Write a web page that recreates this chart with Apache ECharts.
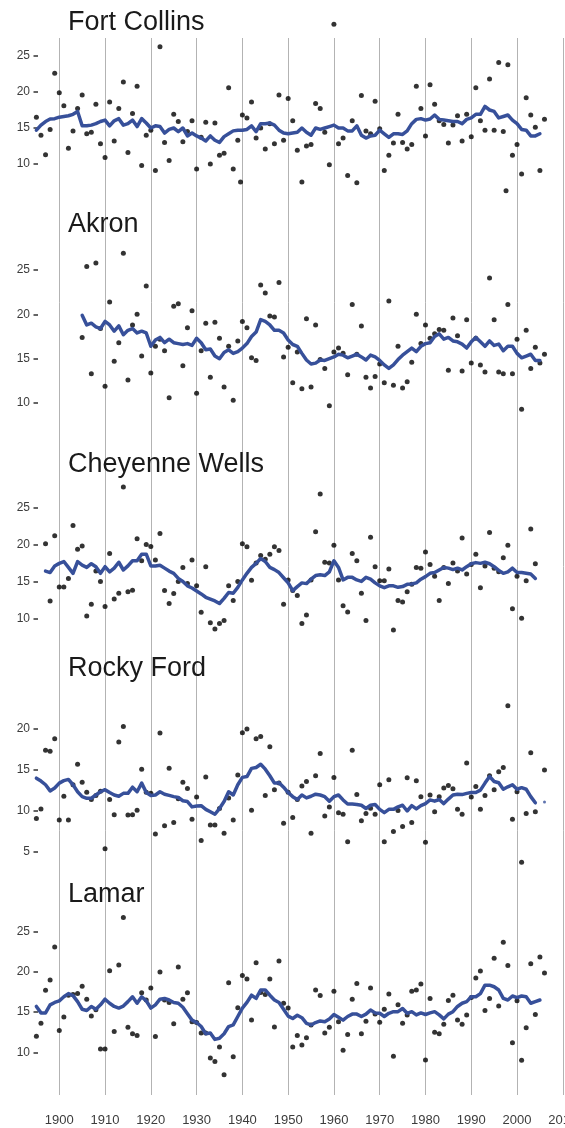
<!DOCTYPE html>
<html><head><meta charset="utf-8">
<script src="https://cdn.jsdelivr.net/npm/echarts@6/dist/echarts.min.js"></script>
<style>html,body{margin:0;padding:0;background:#fff}#c{width:565px;height:1128px}</style>
</head><body><div id="c"></div>
<script>
// ---------- DATA ----------
const stationNames = ['Fort Collins', 'Akron', 'Cheyenne Wells', 'Rocky Ford', 'Lamar'];
const yearTicks = [1900, 1910, 1920, 1930, 1940, 1950, 1960, 1970, 1980, 1990, 2000, 2010];

// Fort Collins
const fcPointStart = 1895;
const fcPoints = [
  16.5, 14.0, 11.3, 14.8, 22.6, 19.9, 18.1, 12.2, 14.6, 17.7,
  19.6, 14.2, 14.4, 18.3, 12.8, 10.9, 18.6, 13.2, 17.7, 21.4,
  11.6, 17.0, 20.8, 9.8, 14.0, 14.7, 9.1, 26.3, 13.0, 10.5,
  16.9, 15.9, 13.1, 14.5, 16.0, 9.3, 13.7, 15.8, 10.0, 15.7,
  11.2, 11.5, 20.6, 9.3, 13.3, 16.8, 16.4, 18.6, 13.6, 15.0,
  12.1, 15.6, 12.8, 19.6, 13.3, 19.1, 16.0, 11.9, 7.5, 12.5,
  12.7, 18.4, 17.7, 14.4, 9.9, 29.4, 12.8, 13.6, 8.4, 16.0,
  7.4, 19.5, 14.6, 14.2, 18.7, 14.9, 9.1, 11.2, 12.9, 16.9,
  13.0, 12.1, 12.7, 20.8, 17.7, 13.9, 21.0, 18.3, 16.0, 15.5,
  12.9, 15.4, 16.7, 13.2, 16.9, 13.8, 20.6, 16.0, 14.7, 21.8,
  14.7, 24.1, 14.5, 23.8, 11.2, 12.7, 8.6, 19.2, 16.8, 15.1,
  9.1, 16.2
];
const fcExtra = [[1939.6, 7.5], [1997.6, 6.3]];
const fcSmoothStart = 1895;
const fcSmooth = [
  14.7, 15.4, 15.9, 16.25, 16.3, 16.5, 16.6, 16.7, 16.9, 17.3,
  15.3, 15.3, 15.4, 15.6, 15.9, 16.1, 15.3, 16.0, 16.3, 15.4,
  15.6, 16.1, 15.2, 16.3, 15.7, 15.0, 15.3, 15.2, 14.3, 14.8,
  15.0, 14.5, 15.0, 13.9, 14.3, 13.9, 13.6, 13.2, 13.9, 13.3,
  13.0, 13.8, 14.2, 14.6, 14.7, 14.7, 14.8, 15.3, 14.5, 15.6,
  15.6, 15.7, 15.4, 14.7, 14.3, 14.2, 14.3, 14.4, 15.0, 14.4,
  14.0, 15.0, 14.8, 15.0, 15.2, 15.4, 15.0, 15.0, 14.6, 14.6,
  15.3, 14.0, 13.6, 13.9, 14.0, 14.7, 14.2, 13.7, 14.2, 14.2,
  14.1, 14.6, 15.6, 16.2, 16.3, 16.1, 16.25, 16.8, 16.2, 16.1,
  16.0, 15.9, 15.9, 15.6, 16.2, 16.4, 16.9, 16.9, 18.0, 17.5,
  17.3, 16.4, 16.6, 16.8, 16.1, 15.6, 14.8, 14.7, 13.9, 13.9,
  14.2
];
const fcTicks = [10, 15, 20, 25];

// Akron
const akPointStart = 1905;
const akPoints = [
  17.4, 25.4, 13.3, 25.8, 18.4, 11.9, 21.4, 14.7, 16.8, 26.9,
  12.6, 18.8, 20.0, 15.3, 23.2, 13.4, 16.4, 17.2, 15.9, 10.6,
  20.9, 21.2, 14.2, 18.5, 20.4, 11.1, 15.9, 19.0, 12.9, 19.1,
  17.3, 11.8, 16.4, 10.3, 17.0, 19.2, 18.5, 15.1, 14.8, 23.3,
  22.4, 19.8, 19.7, 23.6, 15.2, 16.3, 12.3, 15.75, 11.6, 19.5,
  11.8, 18.8, 14.9, 13.9, 9.7, 15.75, 16.2, 15.6, 13.2, 21.1,
  15.5, 18.7, 12.9, 11.7, 13.0, 14.4, 12.3, 21.5, 12.0, 16.4,
  11.7, 12.4, 14.6, 20.0, 16.7, 18.8, 17.3, 17.8, 18.3, 18.2,
  13.7, 19.6, 17.6, 13.6, 19.4, 14.5, 17.3, 14.3, 13.5, 24.1,
  19.4, 13.5, 13.3, 21.1, 13.3, 17.2, 9.3, 18.2, 13.9, 16.3,
  14.5, 15.5
];
const akExtra = [];
const akSmoothStart = 1905;
const akSmooth = [
  19.9, 18.8, 19.0, 18.6, 18.4, 19.2, 18.8, 18.1, 18.7, 17.7,
  18.2, 18.4, 17.9, 18.1, 17.9, 16.4, 17.1, 17.4, 16.8, 17.2,
  16.8, 16.7, 16.6, 16.7, 16.5, 17.3, 16.8, 16.0, 16.1, 15.3,
  15.0, 15.7, 16.0, 15.6, 15.8, 16.2, 16.7, 17.5, 18.0, 19.4,
  19.2, 18.8, 18.2, 18.2, 17.9, 17.1, 16.6, 16.4, 15.6, 14.85,
  14.4, 14.5, 14.85, 14.8, 15.0, 15.2, 15.5, 15.4, 15.1, 15.3,
  15.5, 15.2, 14.85, 15.4, 15.2, 14.8, 14.3, 13.9, 14.3, 14.9,
  15.4, 15.8, 16.2, 15.8, 16.4, 16.7, 16.8, 17.5, 17.8, 17.2,
  17.4, 17.0, 16.9, 16.65, 16.2, 16.9, 17.4, 16.9, 16.4, 17.0,
  16.5, 16.65, 15.9, 16.4, 16.4, 15.6, 15.1, 15.3, 15.5, 14.8,
  14.8
];
const akTicks = [10, 15, 20, 25];

// Cheyenne Wells
const cwPointStart = 1897;
const cwPoints = [
  20.1, 12.35, 21.2, 14.25, 14.25, 15.4, 22.6, 19.35, 19.8, 10.3,
  11.9, 16.4, 15.0, 11.6, 18.8, 12.6, 13.4, 27.8, 13.6, 13.8,
  20.8, 17.8, 20.0, 19.75, 17.9, 21.5, 13.75, 12.0, 13.35, 15.0,
  16.9, 14.7, 17.9, 14.4, 10.8, 17.0, 9.4, 8.55, 9.3, 9.7,
  14.4, 12.4, 15.0, 20.1, 19.7, 15.15, 17.5, 18.5, 18.0, 18.7,
  19.7, 19.2, 11.9, 15.2, 13.75, 13.1, 9.3, 10.45, 15.2, 21.75,
  26.85, 17.6, 17.5, 19.9, 15.2, 11.7, 10.85, 18.8, 17.8, 13.4,
  9.7, 21.0, 17.0, 15.1, 15.1, 16.7, 8.4, 12.4, 12.2, 13.6,
  14.6, 16.9, 16.8, 19.0, 17.3, 15.7, 12.4, 16.9, 14.7, 17.5,
  16.4, 20.9, 16.0, 17.3, 18.7, 14.15, 17.1, 21.65, 16.8, 16.3,
  18.2, 19.9, 11.3, 15.7, 10.0, 15.1, 22.1, 17.4
];
const cwExtra = [];
const cwSmoothStart = 1897;
const cwSmooth = [
  16.4, 16.2, 17.1, 17.45, 17.7, 16.9, 16.1, 17.7, 17.2, 16.9,
  17.4, 17.0, 16.1, 17.0, 16.3, 16.8, 17.6, 16.55, 17.1, 17.8,
  17.8, 18.7, 18.7, 17.1, 17.1, 17.2, 16.8, 16.4, 16.1, 15.4,
  15.0, 14.4, 14.1, 13.7, 13.3, 12.85, 12.6, 12.35, 12.0, 12.7,
  13.5, 13.4, 14.2, 15.2, 16.1, 16.9, 17.45, 18.1, 17.7, 16.9,
  16.6, 16.2, 15.5, 14.8, 13.75, 14.3, 14.8, 14.7, 15.3, 15.8,
  15.9, 15.8, 16.3, 17.8, 16.9, 15.2, 15.55, 15.55, 15.2, 15.0,
  15.55, 15.3, 14.8, 14.4, 14.15, 14.4, 14.4, 14.2, 14.3, 14.6,
  14.65, 14.8, 15.3, 15.65, 16.1, 16.2, 16.55, 16.9, 16.8, 16.6,
  16.8, 16.55, 17.0, 17.4, 17.55, 17.45, 17.6, 17.4, 17.0, 16.5,
  16.1, 16.3, 16.8, 16.2, 16.2, 16.1, 16.0, 15.4
];
const cwTicks = [10, 15, 20, 25];

// Rocky Ford
const rfPointStart = 1895;
const rfPoints = [
  9.1, 10.25, 17.4, 17.3, 18.8, 8.9, 11.8, 8.9, 13.2, 15.7,
  13.5, 12.3, 11.4, 11.9, 12.4, 5.4, 11.4, 9.55, 18.4, 20.3,
  9.5, 9.55, 10.1, 15.1, 12.3, 12.15, 7.2, 19.5, 8.2, 15.2,
  8.6, 11.5, 13.5, 12.75, 9.0, 11.7, 6.4, 14.15, 8.3, 8.3,
  10.3, 7.3, 11.6, 8.9, 14.4, 19.55, 20.0, 10.1, 18.8, 19.1,
  11.9, 17.85, 12.6, 13.4, 8.5, 12.3, 9.2, 11.4, 13.05, 13.6,
  7.3, 14.3, 17.0, 9.4, 10.5, 14.1, 9.8, 9.6, 6.25, 17.4,
  12.0, 8.8, 9.7, 10.35, 9.6, 13.2, 6.25, 13.8, 7.5, 10.05,
  8.1, 14.05, 8.6, 13.7, 11.75, 6.2, 11.95, 9.9, 11.75, 12.8,
  13.1, 12.7, 10.2, 9.6, 15.85, 11.7, 13.0, 10.2, 11.9, 14.3,
  12.6, 14.8, 15.3, 22.85, 9.0, 12.35, 3.75, 9.7, 17.1, 9.9,
  null, 15.0
];
const rfExtra = [];
const rfSmoothStart = 1895;
const rfSmooth = [
  14.0, 13.65, 13.2, 12.45, 12.8, 13.4, 13.7, 13.85, 13.2, 12.35,
  11.75, 11.55, 11.55, 11.95, 12.35, 12.6, 12.25, 11.95, 11.8, 12.15,
  12.15, 12.9, 12.35, 13.4, 12.25, 11.9, 11.95, 12.35, 12.05, 11.9,
  11.75, 11.65, 11.25, 11.15, 10.5, 10.6, 10.65, 10.2, 9.9, 9.6,
  10.3, 11.15, 12.35, 11.95, 13.2, 14.1, 14.2, 15.2, 15.3, 15.7,
  15.1, 14.3, 13.4, 13.45, 12.9, 12.25, 11.75, 11.4, 11.95, 11.6,
  11.8, 12.05, 11.95, 11.75, 11.2, 11.75, 11.95, 11.35, 10.85, 10.85,
  10.8, 10.7, 10.3, 10.7, 10.8, 10.2, 9.8, 10.2, 10.2, 10.5,
  10.7, 10.0, 10.65, 10.25, 10.65, 10.9, 11.35, 11.2, 11.4, 10.9,
  11.45, 11.95, 12.05, 12.0, 12.15, 12.25, 12.25, 12.55, 13.4, 14.2,
  13.6, 13.45, 12.65, 12.95, 13.2, 12.65, 12.85, 12.65, 11.75, 11.0,
  null, 11.1
];
const rfTicks = [5, 10, 15, 20];

// Lamar
const lmPointStart = 1895;
const lmPoints = [
  12.0, 13.6, 17.7, 19.0, 23.1, 12.7, 14.4, 17.1, 17.2, 17.3,
  18.2, 16.6, 14.5, 15.3, 10.4, 10.4, 20.15, 12.6, 20.85, 26.75,
  13.1, 12.3, 12.1, 17.4, 16.5, 18.0, 11.95, 20.0, 16.5, 16.2,
  13.55, 20.6, 16.6, 17.4, 13.8, 13.7, 12.4, 12.4, 9.3, 8.85,
  10.65, 7.2, 18.65, 9.45, 15.55, 19.55, 19.1, 14.0, 21.15, 17.45,
  17.2, 19.1, 13.15, 21.35, 16.1, 15.5, 10.65, 12.1, 10.9, 11.8,
  13.4, 17.75, 17.05, 12.4, 13.1, 17.6, 13.8, 10.25, 12.2, 16.6,
  18.55, 12.3, 13.85, 18.0, 14.75, 13.75, 15.35, 17.25, 9.5, 15.9,
  13.6, 14.65, 17.6, 17.75, 18.5, 9.05, 16.7, 12.5, 12.3, 13.5,
  16.45, 17.1, 14.0, 13.5, 14.65, 16.8, 19.25, 20.1, 15.2, 16.7,
  21.7, 15.75, 23.7, 20.8, 11.2, 16.4, 9.0, 13.05, 21.0, 14.7,
  21.85, 19.85
];
const lmExtra = [];
const lmSmoothStart = 1895;
const lmSmooth = [
  15.7, 14.9, 14.9, 15.9, 16.2, 16.4, 16.9, 17.3, 17.05, 16.3,
  15.35, 15.2, 15.7, 15.35, 15.9, 16.6, 16.1, 15.7, 15.5, 15.75,
  16.3, 16.9, 16.1, 16.9, 16.4, 15.5, 15.9, 16.6, 16.7, 16.5,
  16.2, 16.1, 15.6, 14.8, 14.0, 13.7, 13.2, 12.3, 12.4, 11.6,
  11.75, 12.3, 13.2, 13.4, 14.45, 15.5, 16.2, 17.1, 16.7, 17.75,
  17.75, 17.1, 16.5, 16.2, 15.35, 14.5, 14.2, 14.6, 14.3, 13.6,
  13.4, 13.7, 13.9, 13.8, 14.15, 14.7, 14.35, 14.0, 14.45, 14.75,
  14.75, 14.45, 14.75, 15.25, 14.9, 14.85, 14.45, 14.85, 15.05, 15.05,
  15.45, 14.85, 15.05, 14.65, 14.9, 14.7, 14.9, 15.05, 14.65, 14.15,
  14.75, 15.05, 15.7, 16.1, 16.3, 16.9, 16.9, 17.3, 18.35, 18.35,
  18.15, 17.75, 16.7, 16.5, 17.0, 16.8, 17.0, 16.9, 16.1, 16.3,
  16.5
];
const lmTicks = [10, 15, 20, 25];

// ---------- LAYOUT (positions / ranges, separate from data) ----------
const X_MIN = 1890, X_MAX = 2010;
const GRID_LEFT = 13.5, GRID_RIGHT = 2.2;
const AXIS_X = 38; // where the y tick marks sit
const layout = [
  { yMin: 5, yMax: 30, top: 20,    height: 180,   titleTop: 9 },
  { yMin: 9, yMax: 28, top: 243.4, height: 168.5, titleTop: 210.7 },
  { yMin: 8, yMax: 28, top: 485.6, height: 147.4, titleTop: 451.3 },
  { yMin: 3, yMax: 23, top: 704.4, height: 164,   titleTop: 655 },
  { yMin: 7, yMax: 27, top: 915.6, height: 160.8, titleTop: 881.3 }
];

const stationData = [
  { pStart: fcPointStart, points: fcPoints, extra: fcExtra, sStart: fcSmoothStart, smooth: fcSmooth, ticks: fcTicks },
  { pStart: akPointStart, points: akPoints, extra: akExtra, sStart: akSmoothStart, smooth: akSmooth, ticks: akTicks },
  { pStart: cwPointStart, points: cwPoints, extra: cwExtra, sStart: cwSmoothStart, smooth: cwSmooth, ticks: cwTicks },
  { pStart: rfPointStart, points: rfPoints, extra: rfExtra, sStart: rfSmoothStart, smooth: rfSmooth, ticks: rfTicks },
  { pStart: lmPointStart, points: lmPoints, extra: lmExtra, sStart: lmSmoothStart, smooth: lmSmooth, ticks: lmTicks }
];

const FONT = 'Liberation Sans, Arial, Helvetica, sans-serif';
const LINE_COLOR = '#37509a';
const POINT_COLOR = '#000000';

const grids = [{ left: GRID_LEFT, right: GRID_RIGHT, top: 38, bottom: 33, outerBoundsMode: 'none', containLabel: false }];
const xAxes = [{
  type: 'value', gridIndex: 0, min: X_MIN, max: X_MAX, interval: 10,
  axisLine: { show: false }, axisTick: { show: false },
  splitLine: { show: true, showMinLine: false, showMaxLine: true, lineStyle: { color: '#b3b3b3', width: 1 } },
  axisLabel: {
    show: true, showMinLabel: false, showMaxLabel: true, margin: 18.5, hideOverlap: false,
    fontSize: 13, color: '#3c3c3c', fontFamily: FONT,
    formatter: v => (yearTicks.indexOf(v) >= 0 ? String(v) : '')
  }
}];
const yAxes = [{ type: 'value', gridIndex: 0, show: false, min: 0, max: 1 }];
const series = [];
const titles = [];

stationData.forEach((st, i) => {
  const L = layout[i];
  const gi = i + 1;
  grids.push({ left: GRID_LEFT, right: GRID_RIGHT, top: L.top, height: L.height, outerBoundsMode: 'none', containLabel: false });
  xAxes.push({ type: 'value', gridIndex: gi, min: X_MIN, max: X_MAX, show: false });
  yAxes.push({
    type: 'value', gridIndex: gi, min: L.yMin, max: L.yMax, position: 'left',
    offset: GRID_LEFT - AXIS_X,
    axisLine: { show: false },
    axisTick: { show: true, length: 4.5, customValues: st.ticks, lineStyle: { color: '#333', width: 1.5 } },
    axisLabel: { show: true, customValues: st.ticks, margin: 8, fontSize: 12, color: '#3c3c3c', fontFamily: FONT },
    splitLine: { show: false }
  });
  const pts = st.points.map((v, k) => [st.pStart + k, v]).filter(d => d[1] != null).concat(st.extra);
  series.push({
    type: 'scatter', xAxisIndex: gi, yAxisIndex: gi, data: pts, symbolSize: 5,
    itemStyle: { color: POINT_COLOR }, clip: false, z: 2, silent: true
  });
  const sm = st.smooth.map((v, k) => [st.sStart + k, v]);
  series.push({
    type: 'line', xAxisIndex: gi, yAxisIndex: gi, data: sm.map(d => d[1] == null ? [d[0], '-'] : d),
    showSymbol: false, connectNulls: false, clip: false, z: 3, silent: true,
    lineStyle: { color: LINE_COLOR, width: 3.5, cap: 'round', join: 'round' }
  });
  const iso = sm.filter((d, k) => d[1] != null && (k === 0 || sm[k - 1][1] == null) && (k === sm.length - 1 || sm[k + 1][1] == null));
  if (iso.length) {
    series.push({
      type: 'scatter', xAxisIndex: gi, yAxisIndex: gi, data: iso, symbolSize: 3,
      itemStyle: { color: LINE_COLOR }, clip: false, z: 3, silent: true
    });
  }
  titles.push({
    text: stationNames[i], left: 68, top: L.titleTop, padding: 0,
    textStyle: { fontSize: 27, fontWeight: 'normal', color: '#1a1a1a', fontFamily: FONT }
  });
});

const chart = echarts.init(document.getElementById('c'), null, { renderer: 'canvas' });
chart.setOption({
  animation: false,
  backgroundColor: '#ffffff',
  title: titles,
  grid: grids,
  xAxis: xAxes,
  yAxis: yAxes,
  series: series
});
</script>
</body></html>
